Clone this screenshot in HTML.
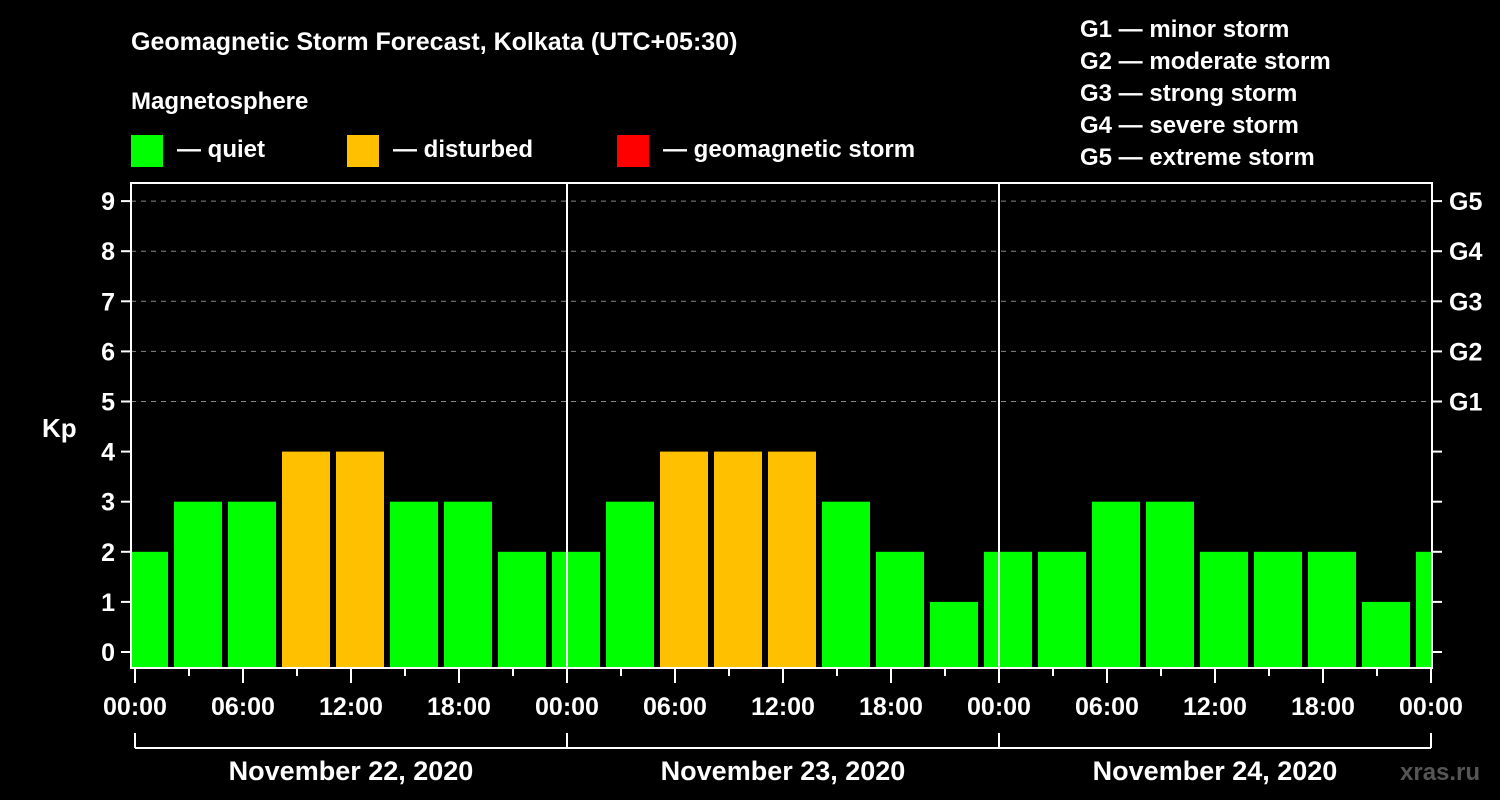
<!DOCTYPE html>
<html><head><meta charset="utf-8"><style>
html,body{margin:0;padding:0;background:#000;}
svg{display:block;font-family:"Liberation Sans",Arial,sans-serif;font-weight:bold;}
</style></head><body>
<svg id="chart" width="1500" height="800" viewBox="0 0 1500 800">
<rect x="0" y="0" width="1500" height="800" fill="#000"/>
<text x="131" y="50" fill="#fff" font-size="25">Geomagnetic Storm Forecast, Kolkata (UTC+05:30)</text>
<text x="131" y="109" fill="#fff" font-size="24">Magnetosphere</text>
<g><rect x="131" y="135" width="32" height="32" fill="#00ff00"/><text x="177" y="157" fill="#fff" font-size="24">— quiet</text></g>
<g><rect x="347" y="135" width="32" height="32" fill="#ffc000"/><text x="393" y="157" fill="#fff" font-size="24">— disturbed</text></g>
<g><rect x="617" y="135" width="32" height="32" fill="#ff0000"/><text x="663" y="157" fill="#fff" font-size="24">— geomagnetic storm</text></g>
<g fill="#fff" font-size="24">
<text x="1080" y="37">G1 — minor storm</text>
<text x="1080" y="69">G2 — moderate storm</text>
<text x="1080" y="101">G3 — strong storm</text>
<text x="1080" y="133">G4 — severe storm</text>
<text x="1080" y="165">G5 — extreme storm</text>
</g>
<text x="42" y="437" fill="#fff" font-size="26">Kp</text>
<text x="1400" y="780" fill="#555" font-size="24">xras.ru</text>
<defs><clipPath id="plotclip"><rect x="132" y="183" width="1299" height="485"/></clipPath></defs>
<g id="grid"></g>
<g id="bars" clip-path="url(#plotclip)"></g>
<g id="axes"></g>
</svg>
<script>
const kpValues = [2,3,3,4,4,3,3,2, 2,3,4,4,4,3,2,1, 2,2,3,3,2,2,2,1, 2];
const yTicks = [0,1,2,3,4,5,6,7,8,9];
const gLabels = ["G1","G2","G3","G4","G5"];
const gLevels = [5,6,7,8,9];
const xTickLabels = ["00:00","06:00","12:00","18:00","00:00","06:00","12:00","18:00","00:00","06:00","12:00","18:00","00:00"];
const dayLabels = ["November 22, 2020","November 23, 2020","November 24, 2020"];

const NS="http://www.w3.org/2000/svg";
const x0=135, pxPerHour=18, yZero=652, pxPerKp=50.1;
const xs=h=>x0+h*pxPerHour;
const ys=v=>yZero-v*pxPerKp;
const L=131, R=1432, T=183, B=668;
function mk(tag,attrs,parent){const e=document.createElementNS(NS,tag);for(const k in attrs)e.setAttribute(k,attrs[k]);parent.appendChild(e);return e;}
const grid=document.getElementById('grid'), bars=document.getElementById('bars'), axes=document.getElementById('axes');

gLevels.forEach((lv,i)=>{
  const l=mk('line',{x1:L,x2:R,y1:ys(lv),y2:ys(lv),stroke:'#888','stroke-dasharray':'5,5','stroke-width':1},grid);
  
  
});
kpValues.forEach((v,k)=>{
  const c=xs(0.5+3*k);
  const col=v>=5?'#ff0000':(v>=4?'#ffc000':'#00ff00');
  const r=mk('rect',{x:c-24,y:ys(v),width:48,height:B-ys(v),fill:col},bars);
  
  
});
// frame
const fr=mk('rect',{x:L,y:T,width:R-L,height:B-T,fill:'none',stroke:'#fff','stroke-width':2},axes);


[1,2].forEach(d=>{const l=mk('line',{x1:xs(24*d),x2:xs(24*d),y1:T,y2:B,stroke:'#fff','stroke-width':2},axes);
  
  });
yTicks.forEach(v=>{
  mk('line',{x1:121,x2:L,y1:ys(v),y2:ys(v),stroke:'#fff','stroke-width':2},axes);
  mk('line',{x1:R,x2:1442,y1:ys(v),y2:ys(v),stroke:'#fff','stroke-width':2},axes);
  const t=mk('text',{x:115,y:ys(v)+9,fill:'#fff','font-size':25,'text-anchor':'end'},axes);
  t.textContent=v;
  
  
});
gLabels.forEach((g,i)=>{
  const t=mk('text',{x:1449,y:ys(gLevels[i])+9,fill:'#fff','font-size':25},axes);
  t.textContent=g;
  
  
});
for(let h=0;h<=72;h+=3){
  const major=h%6===0;
  mk('line',{x1:xs(h),x2:xs(h),y1:B,y2:major?B+15:B+8,stroke:'#fff','stroke-width':2},axes);
}
xTickLabels.forEach((s,i)=>{
  const t=mk('text',{x:xs(6*i),y:715,fill:'#fff','font-size':25,'text-anchor':'middle'},axes);
  t.textContent=s;
  
  
});
mk('line',{x1:xs(0),x2:xs(72),y1:748,y2:748,stroke:'#fff','stroke-width':2},axes);
for(let d=0;d<=3;d++) mk('line',{x1:xs(24*d),x2:xs(24*d),y1:733,y2:748,stroke:'#fff','stroke-width':2},axes);
dayLabels.forEach((s,i)=>{
  const t=mk('text',{x:xs(24*i+12),y:780,fill:'#fff','font-size':27,'text-anchor':'middle'},axes);
  t.textContent=s;
  
  
});
</script>
</body></html>
